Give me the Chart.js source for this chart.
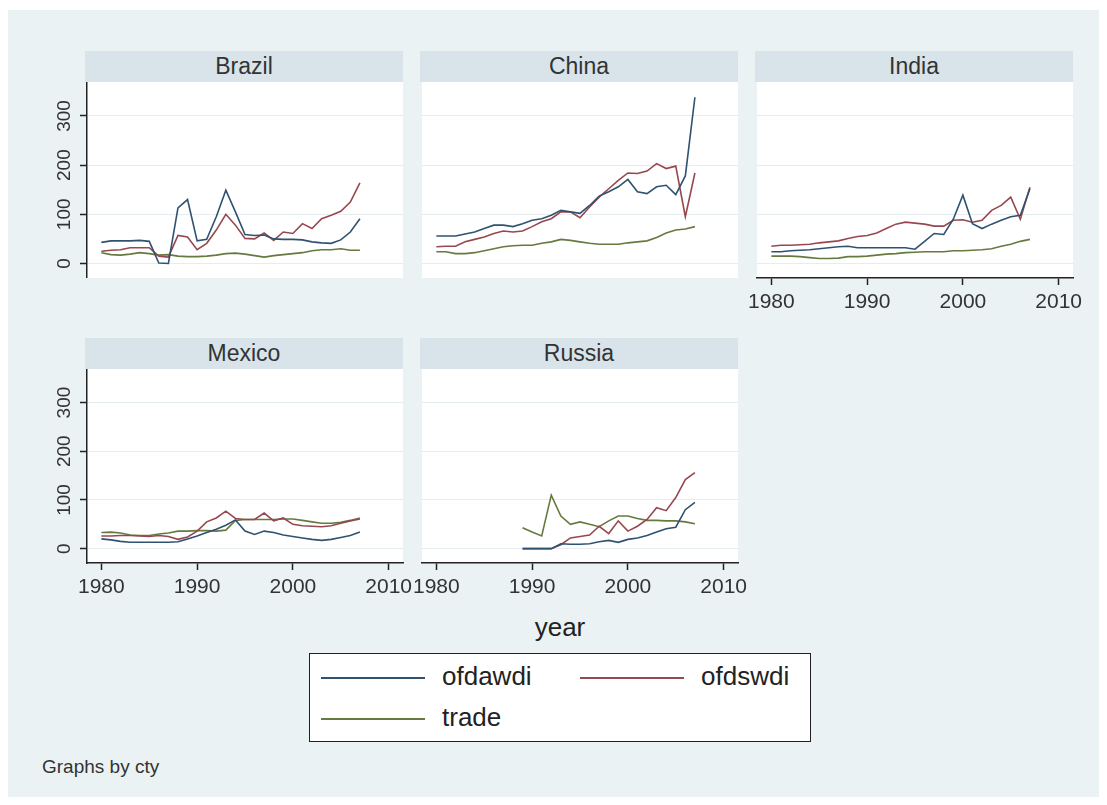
<!DOCTYPE html>
<html>
<head>
<meta charset="utf-8">
<script src="https://cdn.jsdelivr.net/npm/chart.js@4.4.1/dist/chart.umd.min.js"></script>
<style>
  html, body { margin: 0; padding: 0; background: #ffffff; }
  body { width: 1107px; height: 805px; position: relative; overflow: hidden;
         font-family: "Liberation Sans", Arial, sans-serif; color: #2b2b2b; }
  #bg { position: absolute; left: 8px; top: 10px; width: 1091px; height: 787px; background: #eaf2f3; }
  .strip { position: absolute; background: #d8e4ea; color: #333; font-size: 23px;
           text-align: center; box-sizing: border-box; }
  canvas { position: absolute; }
  #xtitle { position: absolute; left: 500px; width: 120px; top: 612px; text-align: center;
            font-size: 26px; color: #222; }
  #legend { position: absolute; left: 309px; top: 653px; width: 502px; height: 89px;
            box-sizing: border-box; background: #fff; border: 1.5px solid #222; }
  .key { position: absolute; height: 0; border-top: 2px solid; }
  .ltext { position: absolute; font-size: 26px; color: #222; line-height: 30px; }
  #note { position: absolute; left: 42px; top: 756px; font-size: 19px; color: #333; }
</style>
</head>
<body>
<div id="bg"></div>
<div id="xtitle">year</div>
<div id="legend"></div>
<div id="note">Graphs by cty</div>
<script>
// Country panels and the years each one covers
const countries = ['Brazil', 'China', 'India', 'Mexico', 'Russia'];
const years = [1980, 1981, 1982, 1983, 1984, 1985, 1986, 1987, 1988, 1989,
               1990, 1991, 1992, 1993, 1994, 1995, 1996, 1997, 1998, 1999,
               2000, 2001, 2002, 2003, 2004, 2005, 2006, 2007];
const russiaYears = [1989, 1990, 1991, 1992, 1993, 1994, 1995, 1996, 1997, 1998,
                     1999, 2000, 2001, 2002, 2003, 2004, 2005, 2006, 2007];

// Series names
const seriesNames = ['ofdawdi', 'ofdswdi', 'trade'];

// Axis ticks
const yTickValues = [0, 100, 200, 300];
const yTickLabels = ['0', '100', '200', '300'];
const xTickValues = [1980, 1990, 2000, 2010];
const xTickLabels = ['1980', '1990', '2000', '2010'];

// Brazil
const brazilOfdawdi = [43, 46, 46, 46, 47, 45, 1, 0, 113, 130, 46, 49, 95, 149, 105, 59, 57, 58, 50, 49, 49, 48, 44, 42, 41, 48, 64, 91];
const brazilOfdswdi = [25, 27, 28, 32, 32, 32, 15, 13, 57, 54, 28, 41, 68, 100, 78, 51, 50, 62, 47, 64, 61, 81, 71, 91, 98, 106, 125, 164];
const brazilTrade   = [22, 18, 17, 19, 22, 20, 17, 18, 15, 14, 14, 15, 17, 20, 21, 19, 16, 13, 16, 18, 20, 22, 26, 28, 28, 30, 27, 27];

// China
const chinaOfdawdi = [56, 56, 56, 60, 64, 71, 78, 78, 75, 81, 88, 91, 98, 108, 105, 102, 118, 137, 146, 156, 171, 146, 142, 156, 159, 140, 178, 338];
const chinaOfdswdi = [34, 35, 35, 44, 49, 54, 61, 66, 64, 66, 75, 85, 91, 105, 105, 93, 115, 135, 152, 169, 184, 183, 188, 203, 193, 198, 95, 184];
const chinaTrade   = [24, 24, 20, 20, 22, 26, 30, 34, 36, 37, 37, 41, 44, 49, 47, 44, 41, 39, 39, 39, 42, 44, 46, 53, 62, 68, 70, 75];

// India
const indiaOfdawdi = [24, 24, 26, 27, 28, 30, 32, 34, 35, 32, 32, 32, 32, 32, 32, 29, 45, 61, 59, 90, 139, 81, 71, 80, 88, 95, 98, 152];
const indiaOfdswdi = [35, 37, 37, 38, 39, 42, 44, 46, 51, 55, 57, 62, 71, 80, 84, 82, 80, 76, 76, 88, 89, 84, 88, 108, 118, 135, 90, 155];
const indiaTrade   = [15, 15, 15, 14, 12, 10, 10, 11, 14, 14, 15, 17, 19, 20, 22, 23, 24, 24, 24, 26, 26, 27, 28, 30, 35, 39, 45, 49];

// Mexico
const mexicoOfdawdi = [20, 18, 15, 13, 13, 13, 13, 13, 14, 20, 26, 33, 40, 48, 59, 36, 29, 36, 33, 28, 25, 22, 19, 17, 19, 23, 27, 34];
const mexicoOfdswdi = [26, 26, 27, 27, 26, 25, 27, 25, 19, 24, 36, 55, 63, 77, 62, 60, 60, 73, 57, 63, 50, 47, 46, 45, 47, 52, 57, 61];
const mexicoTrade   = [33, 34, 32, 28, 27, 27, 30, 32, 36, 36, 37, 37, 36, 38, 58, 60, 60, 60, 60, 61, 61, 58, 55, 52, 52, 54, 58, 63];

// Russia
const russiaOfdawdi = [0, 0, 0, 0, 10, 9, 9, 10, 14, 17, 13, 19, 22, 27, 34, 41, 44, 80, 95];
const russiaOfdswdi = [0, 0, 0, 0, 8, 22, 25, 28, 46, 31, 57, 36, 46, 60, 84, 78, 105, 142, 156];
const russiaTrade   = [43, 34, 26, 110, 67, 50, 55, 50, 45, 57, 67, 67, 62, 58, 58, 57, 57, 55, 51];

// Line colours for the three series
const lineColors = ['#2f5271', '#97474f', '#66793f'];

// Panel placement: plot area [left, top, width, height], which axes carry labels
const panels = [
  { name: countries[0], yrs: years, series: [brazilOfdawdi, brazilOfdswdi, brazilTrade], plot: [87, 82, 316, 196], showY: true,  showX: false },
  { name: countries[1], yrs: years, series: [chinaOfdawdi, chinaOfdswdi, chinaTrade],    plot: [422, 82, 316, 196], showY: false, showX: false },
  { name: countries[2], yrs: years, series: [indiaOfdawdi, indiaOfdswdi, indiaTrade],    plot: [757, 82, 316, 196], showY: false, showX: true },
  { name: countries[3], yrs: years, series: [mexicoOfdawdi, mexicoOfdswdi, mexicoTrade], plot: [87, 369, 316, 194], showY: true,  showX: true },
  { name: countries[4], yrs: russiaYears, series: [russiaOfdawdi, russiaOfdswdi, russiaTrade], plot: [422, 369, 316, 194], showY: false, showX: true }
];

// White plot region behind the grid
const plotBackground = {
  id: 'plotBackground',
  beforeDraw(chart) {
    const a = chart.chartArea, ctx = chart.ctx;
    ctx.save();
    ctx.fillStyle = '#ffffff';
    ctx.fillRect(a.left, a.top, a.right - a.left, a.bottom - a.top);
    ctx.restore();
  }
};

// Vertical y tick labels, reading bottom to top
const verticalYLabels = {
  id: 'verticalYLabels',
  afterDraw(chart, args, opts) {
    if (!opts.show) return;
    const scale = chart.scales.y, ctx = chart.ctx;
    ctx.save();
    ctx.font = '19px "Liberation Sans", Arial, sans-serif';
    ctx.fillStyle = '#333';
    ctx.textAlign = 'center';
    ctx.textBaseline = 'middle';
    yTickValues.forEach((v, i) => {
      const py = scale.getPixelForValue(v);
      ctx.save();
      ctx.translate(opts.x, py);
      ctx.rotate(-Math.PI / 2);
      ctx.fillText(yTickLabels[i], 0, 0);
      ctx.restore();
    });
    ctx.restore();
  }
};

const Y_AXIS_W = 57, PAD_W = 20, RIGHT_PAD = 30, X_AXIS_H = 60;

panels.forEach(p => {
  const [pl, pt, pw, ph] = p.plot;

  // title strip above the plot
  const strip = document.createElement('div');
  strip.className = 'strip';
  strip.style.left = (pl - 2) + 'px';
  strip.style.top = (pt - 31) + 'px';
  strip.style.width = (pw + 2) + 'px';
  strip.style.height = '31px';
  strip.style.lineHeight = '31px';
  strip.textContent = p.name;
  document.body.appendChild(strip);

  const yw = p.showY ? Y_AXIS_W : PAD_W;
  const xh = p.showX ? X_AXIS_H : 0;
  const cv = document.createElement('canvas');
  const cl = pl - yw, cw = yw + pw + RIGHT_PAD, ch = ph + xh;
  cv.width = cw; cv.height = ch;
  cv.style.left = cl + 'px';
  cv.style.top = pt + 'px';
  cv.style.width = cw + 'px';
  cv.style.height = ch + 'px';
  document.body.appendChild(cv);

  const datasets = p.series.map((vals, k) => ({
    label: seriesNames[k],
    data: p.yrs.map((yr, i) => ({ x: yr, y: vals[i] })),
    borderColor: lineColors[k],
    borderWidth: 1.6,
    pointRadius: 0,
    tension: 0,
    fill: false
  }));

  new Chart(cv, {
    type: 'line',
    data: { datasets },
    plugins: [plotBackground, verticalYLabels],
    options: {
      responsive: false,
      maintainAspectRatio: false,
      animation: false,
      devicePixelRatio: 1,
      layout: { padding: { left: 0, top: 0, bottom: 0, right: RIGHT_PAD } },
      plugins: {
        legend: { display: false },
        tooltip: { enabled: false },
        verticalYLabels: { show: p.showY, x: 65 - cl }
      },
      scales: {
        x: {
          type: 'linear',
          min: 1978.5,
          max: 2011.5,
          display: p.showX,
          afterBuildTicks: s => { s.ticks = xTickValues.map(v => ({ value: v })); },
          afterFit: s => { s.height = xh; },
          grid: { drawOnChartArea: false, drawTicks: true, tickLength: 7, tickColor: '#222', tickWidth: 1.5 },
          border: { display: true, color: '#222', width: 1.5 },
          ticks: {
            padding: 5,
            color: '#333',
            font: { size: 21, family: '"Liberation Sans", Arial, sans-serif' },
            maxRotation: 0,
            autoSkip: false,
            callback: v => xTickLabels[xTickValues.indexOf(v)]
          }
        },
        y: {
          type: 'linear',
          min: -29.5,
          max: 369,
          display: true,
          afterBuildTicks: s => { s.ticks = yTickValues.map(v => ({ value: v })); },
          afterFit: s => { s.width = yw; },
          grid: {
            color: '#e6edf0',
            lineWidth: 1,
            drawTicks: p.showY,
            tickLength: 7,
            tickColor: '#222',
            tickWidth: 1.5
          },
          border: { display: p.showY, color: '#222', width: 1.5 },
          ticks: { display: false }
        }
      }
    }
  });
});

// Legend box: key line and name for each series
const legend = document.getElementById('legend');
const keySpots = [[11, 23], [270, 23], [11, 64]];
seriesNames.forEach((name, k) => {
  const [kx, ky] = keySpots[k];
  const key = document.createElement('div');
  key.className = 'key';
  key.style.left = kx + 'px';
  key.style.top = ky + 'px';
  key.style.width = '104px';
  key.style.borderTopColor = lineColors[k];
  legend.appendChild(key);
  const t = document.createElement('div');
  t.className = 'ltext';
  t.style.left = (kx + 121) + 'px';
  t.style.top = (ky - 16) + 'px';
  t.textContent = name;
  legend.appendChild(t);
});
</script>
</body>
</html>
